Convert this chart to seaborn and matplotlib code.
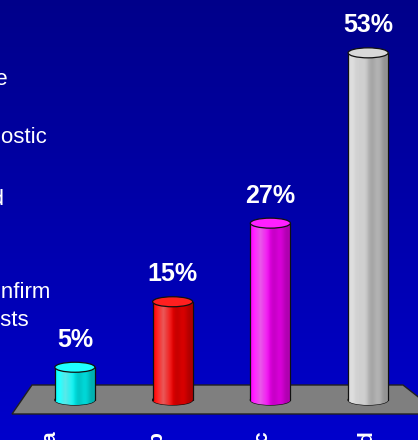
import numpy as np
import matplotlib
matplotlib.use("Agg")
import matplotlib.pyplot as plt
from matplotlib.patches import Ellipse, Polygon
from matplotlib.colors import to_rgb
import seaborn as sns

# chart data
categories = ["a", "b", "c", "d"]
values = [5, 15, 27, 53]
value_labels = ["5%", "15%", "27%", "53%"]
bar_colors = ["#00FFFF", "#FF0000", "#FF00FF", "#D4D4D4"]
legend_lines = ["a  Accurate and complete", "b  Not diagnostic", "c  Confirmed",
                "d  Needed to confirm", "further tests"]

sns.set_style("white")
plt.rcParams["font.family"] = ["Liberation Sans", "DejaVu Sans"]

W, H = 418, 440
fig = plt.figure(figsize=(W / 100, H / 100), dpi=100)

# blue slide background, darker at the top
bg = fig.add_axes([0, 0, 1, 1], zorder=-5)
grad = np.linspace(0, 1, 256)[:, None]
top_c = np.array(to_rgb("#00008A"))
bot_c = np.array(to_rgb("#0000CC"))
bg.imshow(top_c + (bot_c - top_c) * grad[..., None], aspect="auto", extent=[0, 1, 0, 1])
bg.axis("off")

# main plotting area: category spacing ~98 px, 6.55 px per percent
px_per_unit = 6.55
y_lo, y_hi = -40 / px_per_unit, (400 - 7) / px_per_unit
ax = fig.add_axes([26 / W, 0, 391 / W, (440 - 7) / H])
ax.set_facecolor("none")

bar_w = 0.41
sns.barplot(x=categories, y=values, hue=categories, palette=bar_colors,
            width=bar_w, legend=False, ax=ax, saturation=1, zorder=3)

# grey floor under the cylinders
def px2x(px):
    return (px - 26) / 97.75 - 0.5

def px2y(py):
    return (400 - py) / px_per_unit

floor = Polygon([(px2x(32), px2y(385)), (px2x(403), px2y(385)),
                 (px2x(440), px2y(414)), (px2x(12), px2y(414))],
                closed=True, facecolor="#7F7F7F", edgecolor="#202020", lw=1.0,
                zorder=1, clip_on=False)
ax.add_patch(floor)

cap_h = 10 / px_per_unit
n = 60
t = np.linspace(0, 1, n)
shade = 1.0 - 0.28 * t + 0.05 * np.sin(t * 19)
hilite = np.clip(0.35 - np.abs(t - 0.25) * 1.4, 0, None)

for patch, col, val, lab in zip(ax.patches, bar_colors, values, value_labels):
    x0 = patch.get_x()
    w = patch.get_width()
    h = patch.get_height()
    base = np.array(to_rgb(col))
    strip = base[None, :] * shade[:, None]
    strip = strip + (1 - strip) * hilite[:, None]
    img = np.clip(strip, 0, 1)[None, :, :]
    patch.set_edgecolor("none")

    # rounded base of the cylinder
    bottom = Ellipse((x0 + w / 2, 0), w, cap_h, facecolor=col, edgecolor="#101010",
                     lw=0.9, zorder=2)
    ax.add_patch(bottom)
    im_b = ax.imshow(img, aspect="auto", extent=(x0, x0 + w, -cap_h, cap_h), zorder=2.5)
    im_b.set_clip_path(bottom)

    # body
    im = ax.imshow(img, aspect="auto", extent=(x0, x0 + w, 0, h), zorder=3.5)
    im.set_clip_path(patch)
    ax.plot([x0, x0], [0, h], color="#101010", lw=0.9, zorder=4)
    ax.plot([x0 + w, x0 + w], [0, h], color="#101010", lw=0.9, zorder=4)

    # top cap
    cap_col = base + (1 - base) * 0.12
    ax.add_patch(Ellipse((x0 + w / 2, h), w, cap_h, facecolor=cap_col,
                         edgecolor="#101010", lw=0.9, zorder=5))

    ax.text(x0 + w / 2, val + 4.2, lab, ha="center", va="center", color="white",
            fontsize=18, fontweight="bold", zorder=6)

ax.set_xlim(-0.5, 3.5)
ax.set_ylim(y_lo, y_hi)
ax.axis("off")

# category labels along the front edge of the floor, running off the bottom
ax2 = fig.add_axes([-3 / W, 14 / H, 423 / W, 0.001])
ax2.set_facecolor("none")
ax2.set_xlim(-0.5, 3.5)
ax2.set_xticks(range(len(categories)))
ax2.set_xticklabels(categories, rotation=90, color="white", fontsize=15, fontweight="bold")
ax2.tick_params(axis="x", length=0, pad=4)
ax2.set_yticks([])
for s in ax2.spines.values():
    s.set_visible(False)

# legend text block running off the left edge
legend_pos = [(8, 79), (47, 137), (4, 199), (50, 293), (29, 321)]
for txt, (xr, yc) in zip(legend_lines, legend_pos):
    fig.text(xr / W, 1 - yc / H, txt, ha="right", va="center", color="white", fontsize=16)

fig.savefig("out.png", dpi=100)
